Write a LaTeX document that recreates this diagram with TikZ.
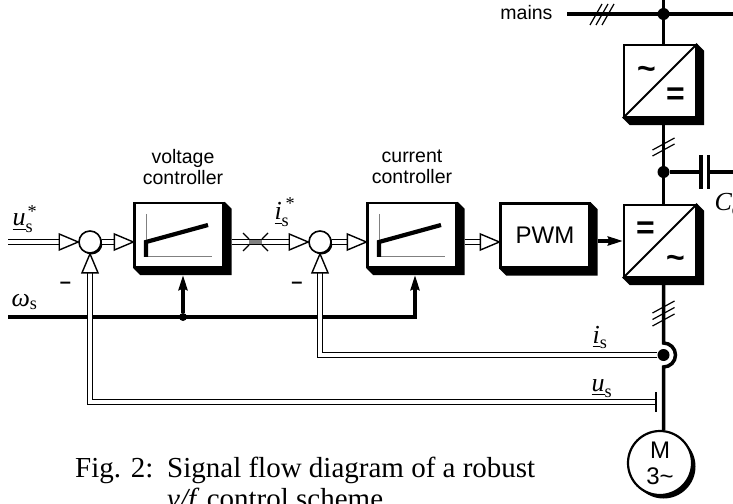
\documentclass[tikz,border=0pt]{standalone}
\usepackage{amsmath}
\usepackage{fontspec}
\setmainfont{Liberation Serif}
\setsansfont{Liberation Sans}
\usetikzlibrary{arrows.meta,calc,positioning,shadows,decorations.markings}

\newcommand{\lblfont}{\sffamily\fontsize{19.5bp}{21bp}\selectfont}
\newcommand{\pwmfont}{\sffamily\fontsize{24bp}{26bp}\selectfont}
\newcommand{\varfont}{\fontsize{26bp}{28bp}\selectfont}
\newcommand{\symfont}{\sffamily\bfseries\fontsize{32bp}{32bp}\selectfont}
\newcommand{\minusfont}{\sffamily\bfseries\fontsize{20bp}{20bp}\selectfont}
\newcommand{\capfont}{\fontsize{29bp}{31bp}\selectfont}

\begin{document}
\begin{tikzpicture}[x=1bp, y=-1bp]
		\tikzstyle{block}=[draw, line width=2.3bp, fill=white, minimum width=89bp, minimum height=64bp, inner sep=0pt]
		\tikzstyle{conv}=[draw, line width=2.3bp, fill=white, minimum size=72bp, inner sep=0pt]
		\tikzstyle{sum}=[circle, draw, line width=1.6bp, fill=white, minimum size=22bp, inner sep=0pt, drop shadow={shadow xshift=1.5bp, shadow yshift=-1.5bp, fill=black, opacity=1}]
		\tikzstyle{motor}=[circle, draw, line width=2.2bp, fill=white, minimum size=64bp, inner sep=0pt, align=center, font=\pwmfont, drop shadow={shadow xshift=3.5bp, shadow yshift=-3.5bp, fill=black, opacity=1}]
		\tikzstyle{bigdot}=[circle, fill=black, minimum size=12bp, inner sep=0pt]
		\tikzstyle{smalldot}=[circle, fill=black, minimum size=8bp, inner sep=0pt]
		\tikzstyle{plate}=[fill=black, minimum width=3.2bp, minimum height=34bp, inner sep=0pt]
		\tikzstyle{bar}=[fill=black, minimum width=2.2bp, minimum height=20bp, inner sep=0pt]
		\tikzstyle{power}=[line width=3.5bp]
		\tikzstyle{ctrl}=[line width=3.1bp]
		\tikzstyle{ctrlarrow}=[ctrl, -{Stealth[length=15bp, width=9bp, inset=1.5bp]}]
		\tikzstyle{tick}=[line width=1.2bp]
		\tikzstyle{sig}=[line width=1.5bp, double=white, double distance=3.2bp, shorten >=11bp, postaction={decorate, decoration={markings, mark=at position 1 with {\draw[line width=1.4bp, fill=white, shorten >=0pt] (0,0) -- (-19,8) -- (-19,-8) -- cycle;}}}]
		
		\useasboundingbox (0,0) rectangle (733,504);
		
		% Controllers
		\node[sum] (sum1) at (90,242) {};
		\node[block] (vc) at (179,235) {};
		\node[sum] (sum2) at (320,242) {};
		\node[block] (cc) at (412,235) {};
		\node[block, font=\pwmfont] (pwm) at (545,235.5) {PWM};
		
		% Converters and motor
		\node[conv] (rect) at (660,81) {};
		\node[conv] (inv) at (660,241) {};
		\node[motor] (motor) at (660,463) {M\\3\textasciitilde};
		
		% Shadows
		\foreach \b in {vc,cc,pwm,rect,inv}
		\fill (\b.north east) -- ++(7,7) -- ($(\b.south east)+(7,7)$) -- ($(\b.south west)+(7,7)$) -- (\b.south west) -- (\b.south east) -- cycle;
		
		% PI characteristic
		\foreach \b in {vc,cc} {
			\begin{scope}[shift={(\b.center)}]
				\draw[gray, line width=1bp] (-33,-21) -- (-33,22) -- (33,22);
				\draw[line width=4.2bp] (-33,22) -- (-33,7) -- (29,-10);
			\end{scope}
		}
		\draw[line width=2bp] (rect.south west) -- (rect.north east);
		\draw[line width=2bp] (inv.south west) -- (inv.north east);
		\node[font=\symfont] (ac1) at ($(rect.center)+(-13.5,-8)$) {\textasciitilde};
		\node[font=\symfont] (dc1) at ($(rect.center)+(15.5,15.5)$) {=};
		\node[font=\symfont] (dc2) at ($(inv.center)+(-14.5,-11)$) {=};
		\node[font=\symfont] (ac2) at ($(inv.center)+(15.5,21)$) {\textasciitilde};
		
		% Mains and DC link
		\coordinate (top) at (663.5,0);
		\coordinate (mw) at (567,14);
		\coordinate (me) at (733,14);
		\node[font=\lblfont, anchor=base east] (mains) at (556,20) {mains};
		\node[bigdot] (mdot) at (top |- mw) {};
		\draw[power] (mw) -- (me);
		\draw[power] (top) -- (top |- rect.north);
		\foreach \x in {596,602,608}
		\draw[tick] (\x-6,25) -- (\x+6,4);
		\draw[power] (top |- rect.south) -- (top |- inv.north);
		\foreach \y in {144,150}
		\draw[tick] (652.5,\y+6) -- (674.5,\y-6);
		\node[bigdot] (dcdot) at (663.5,172) {};
		\node[plate] (cp1) at (701,172) {};
		\node[plate] (cp2) at (708.5,172) {};
		\coordinate (ce) at (733,172);
		\draw[power] (dcdot) -- (cp1);
		\draw[power] (cp2) -- (ce);
		\node[font=\varfont, anchor=base west] (cd) at (711,211) {$\textit{C}_{\textrm{d}}$};
		
		% Motor line with current sensor
		\node[bigdot] (isdot) at (663.5,355) {};
		\coordinate (bt) at ($(isdot)+(0,-12)$);
		\draw[power] (top |- inv.south) -- (bt) arc[start angle=-90, end angle=90, radius=12] -- (top |- motor.north);
		\foreach \y in {307,313.5,320}
		\draw[tick] (652.5,\y+6) -- (674.5,\y-6);
		
		% Speed input
		\coordinate (win) at (8,317);
		\node[smalldot] (wj) at (183,317) {};
		\coordinate (wc) at (415,317);
		\draw[ctrlarrow, shorten >=7bp] (win) -- (wc) -- (wc |- cc.south);
		\draw[ctrlarrow, shorten >=7bp] (wj) -- (wj |- vc.south);
		
		% Signal path
		\coordinate (usin) at (8,242);
		\draw[sig] (usin) -- (sum1.west);
		\draw[sig] (sum1.east) -- (sum1.east -| vc.west);
		\draw[sig, shorten <=7bp] (vc.east |- sum2.east) -- (sum2.west);
		\draw[sig] (sum2.east) -- (sum2.east -| cc.west);
		\draw[sig, shorten <=7bp] (cc.east |- sum2.east) -- (sum2.east -| pwm.west);
		\draw[ctrlarrow, shorten <=7bp] (pwm.east |- inv.west) -- (inv.west);
		
		% Limiter
		\fill[gray] (249,240.3) rectangle (262,243.7);
		\draw[tick] (243,233) -- (249,239) (262,239) -- (268,233);
		\draw[tick] (243,251) -- (249,245) (262,245) -- (268,251);
		
		% Feedback
		\draw[sig] (isdot.west) -| (sum2.south);
		\node[bar] (usbar) at (656,402) {};
		\draw[sig] (usbar.west) -| (sum1.south);
		
		% Text
		\node[font=\lblfont, align=center] (vclbl) at (183,167) {voltage\\controller};
		\node[font=\lblfont, align=center] (cclbl) at (412,167) {current\\controller};
		\node[font=\varfont, anchor=base west] (uref) at (9,226) {$\underline{\textit{u}}_{\textrm{s}}^{\kern2bp\textrm{*}}$};
		\node[font=\varfont, anchor=base west] (iref) at (271,220) {$\underline{\textit{i}}_{\textrm{s}}^{\kern4bp\textrm{*}}$};
		\node[font=\varfont, anchor=base west] (wlbl) at (8,306) {$\textit{ω}_{\textrm{s}}$};
		\node[font=\varfont, anchor=base west] (islbl) at (589,343) {$\underline{\textit{i}}_{\textrm{s}}$};
		\node[font=\varfont, anchor=base west] (uslbl) at (588,391) {$\underline{\textit{u}}_{\textrm{s}}$};
		\node[font=\minusfont] (minus1) at (65.5,285) {--};
		\node[font=\minusfont] (minus2) at (297,285) {--};
		\node[font=\capfont, anchor=base west, inner sep=0pt] (caption) at (75,477) {\begin{tabular}[t]{@{}l@{}l@{}}\makebox[92bp][l]{Fig. 2:} & Signal flow diagram of a robust\\ & \textit{v/f} control scheme\end{tabular}};
		
\end{tikzpicture}
\end{document}
